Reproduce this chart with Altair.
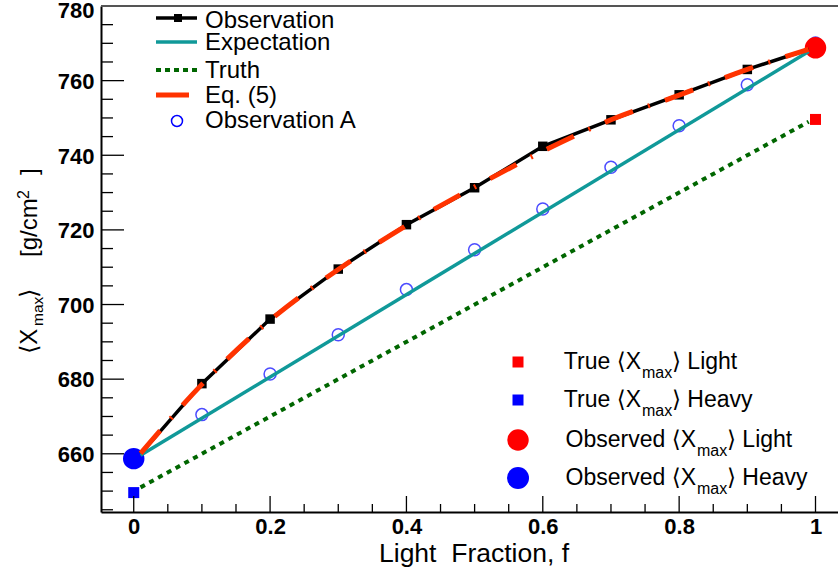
import altair as alt
import pandas as pd

# ---------------- data ----------------
f_line = [0.01, 0.1, 0.2, 0.3, 0.4, 0.5, 0.6, 0.7, 0.8, 0.9, 0.99]
observation = [660.0, 678.8, 696.1, 709.5, 721.4, 731.3, 742.4, 749.5, 756.2, 763.0, 768.4]
eq5 = [660.1, 678.6, 695.8, 709.4, 721.2, 731.5, 741.1, 749.5, 756.1, 763.0, 768.4]
f_marker = [0.1, 0.2, 0.3, 0.4, 0.5, 0.6, 0.7, 0.8, 0.9]
observation_marker = [678.8, 696.1, 709.5, 721.4, 731.3, 742.4, 749.5, 756.2, 763.0]
f_obs_a = [0.0, 0.1, 0.2, 0.3, 0.4, 0.5, 0.6, 0.7, 0.8, 0.9, 1.0]
observation_a = [659.0, 670.5, 681.4, 691.9, 704.0, 714.7, 725.6, 736.8, 747.9, 758.9, 770.1]
f_ends = [0.01, 0.99]
expectation = [659.6, 767.8]
truth = [651.0, 749.0]
comp_names = ["Light", "Heavy"]
comp_f = [1.0, 0.0]
true_xmax = [749.6, 649.6]
observed_xmax = [768.8, 658.7]
comp_colors = ["#ff0000", "#0000ff"]

x_ticks_major = [0, 0.2, 0.4, 0.6, 0.8, 1.0]
x_ticks_minor = [0.05, 0.1, 0.15, 0.25, 0.3, 0.35, 0.45, 0.5, 0.55,
                 0.65, 0.7, 0.75, 0.85, 0.9, 0.95]
y_ticks_major = [660, 680, 700, 720, 740, 760, 780]
y_ticks_minor = [645, 650, 655, 665, 670, 675, 685, 690, 695, 705, 710, 715,
                 725, 730, 735, 745, 750, 755, 765, 770, 775]

FONT = "Liberation Sans, DejaVu Sans, sans-serif"
W, H = 737, 506
TEAL = "#109999"
GREEN = "#006600"
ORANGE = "#ff3300"

xs = alt.Scale(domain=[-0.048, 1.033], nice=False, zero=False)
ys = alt.Scale(domain=[644.4, 780], nice=False, zero=False)

x_axis = alt.Axis(values=x_ticks_major, format="~g", title=None, labelFont=FONT,
                  labelFontSize=22, labelFontWeight="bold", labelColor="black",
                  labelPadding=4, ticks=False, domainColor="black", domainWidth=2,
                  grid=False, labelFlush=False)
y_axis = alt.Axis(values=y_ticks_major, format="d", title=None, labelFont=FONT,
                  labelFontSize=22, labelFontWeight="bold", labelColor="black",
                  labelPadding=7, ticks=False, domainColor="black", domainWidth=2,
                  grid=False, labelBaseline="middle",
                  labelOffset={"condition": {"test": "datum.value >= 780", "value": 4.5},
                               "value": 0.8})


def X(field):
    return alt.X(field, type="quantitative", scale=xs, axis=x_axis)


def Y(field):
    return alt.Y(field, type="quantitative", scale=ys, axis=y_axis)


df_line = pd.DataFrame({"f": f_line, "obs": observation, "eq5": eq5})
df_marker = pd.DataFrame({"f": f_marker, "obs": observation_marker})
df_a = pd.DataFrame({"f": f_obs_a, "xa": observation_a})
df_ends = pd.DataFrame({"f": f_ends, "expct": expectation, "truth": truth})
df_comp = pd.DataFrame({"f": comp_f, "name": comp_names, "true": true_xmax,
                        "observed": observed_xmax, "col": comp_colors})
df_xmaj = pd.DataFrame({"t": x_ticks_major})
df_xmin = pd.DataFrame({"t": x_ticks_minor})
df_ymaj = pd.DataFrame({"t": y_ticks_major})
df_ymin = pd.DataFrame({"t": y_ticks_minor})
one = pd.DataFrame({"a": [0]})

layers = []

# Observation A: open circles
layers.append(alt.Chart(df_a).mark_point(shape="circle", filled=False, size=144,
                                         color="#0000ff", strokeWidth=1.5)
              .encode(x=X("f"), y=Y("xa")))
# observed big circles
layers.append(alt.Chart(df_comp).mark_point(shape="circle", filled=True, size=460, opacity=1)
              .encode(x=X("f"), y=Y("observed"),
                      color=alt.Color("col:N", scale=None)))
# true squares
layers.append(alt.Chart(df_comp).mark_point(shape="square", filled=True, size=121, opacity=1)
              .encode(x=X("f"), y=Y("true"),
                      color=alt.Color("col:N", scale=None)))
# Observation line + markers
layers.append(alt.Chart(df_line).mark_line(color="black", strokeWidth=3.5)
              .encode(x=X("f"), y=Y("obs")))
layers.append(alt.Chart(df_marker).mark_point(shape="square", filled=True, size=90,
                                              color="black", opacity=1)
              .encode(x=X("f"), y=Y("obs")))
# Expectation
layers.append(alt.Chart(df_ends).mark_line(color=TEAL, strokeWidth=3.5)
              .encode(x=X("f"), y=Y("expct")))
# Truth
layers.append(alt.Chart(df_ends).mark_line(color=GREEN, strokeWidth=4, strokeDash=[5, 5])
              .encode(x=X("f"), y=Y("truth")))
# Eq. (5)
layers.append(alt.Chart(df_line).mark_line(color=ORANGE, strokeWidth=5,
                                           strokeDash=[30, 16, 2, 16],
                                           interpolate="monotone", strokeCap="butt")
              .encode(x=X("f"), y=Y("eq5")))

# inward ticks
layers.append(alt.Chart(df_ymaj).mark_rule(color="black", strokeWidth=1.3)
              .encode(y=Y("t"), x=alt.value(0), x2=alt.value(23)))
layers.append(alt.Chart(df_ymin).mark_rule(color="black", strokeWidth=1.3)
              .encode(y=Y("t"), x=alt.value(0), x2=alt.value(12)))
layers.append(alt.Chart(df_xmaj).mark_rule(color="black", strokeWidth=1.3)
              .encode(x=X("t"), y=alt.value(H), y2=alt.value(H - 16)))
layers.append(alt.Chart(df_xmin).mark_rule(color="black", strokeWidth=1.3)
              .encode(x=X("t"), y=alt.value(H), y2=alt.value(H - 8)))
# top frame
layers.append(alt.Chart(one).mark_rule(color="#555555", strokeWidth=2)
              .encode(x=alt.value(0), x2=alt.value(W), y=alt.value(0)))


def txt(s, x, y, size, align="left", angle=0):
    return (alt.Chart(one)
            .mark_text(text=s, align=align, baseline="alphabetic", fontSize=size,
                       font=FONT, angle=angle, color="black")
            .encode(x=alt.value(x), y=alt.value(y)))


def hline(x1, x2, y, color, width, dash=None):
    kw = dict(color=color, strokeWidth=width, strokeCap="butt")
    if dash:
        kw["strokeDash"] = dash
    return alt.Chart(one).mark_rule(**kw).encode(x=alt.value(x1), x2=alt.value(x2), y=alt.value(y))


def sym(x, y, shape, size, color, filled=True, sw=1.5):
    return (alt.Chart(one).mark_point(shape=shape, size=size, color=color, filled=filled,
                                      opacity=1, strokeWidth=sw)
            .encode(x=alt.value(x), y=alt.value(y)))


# top-left legend
LS = 24
layers += [
    hline(55, 96, 12, "black", 3.5), sym(77, 12, "square", 64, "black"),
    txt("Observation", 104, 22, LS),
    hline(55, 96, 36, TEAL, 3.5), txt("Expectation", 104, 44, LS),
    hline(55, 96, 64, GREEN, 4, [5, 4]), txt("Truth", 104, 72, LS),
    hline(55, 88, 89, ORANGE, 5), txt("Eq. (5)", 104, 97, LS),
    sym(76, 115, "circle", 121, "#0000ff", filled=False), txt("Observation A", 104, 122, LS),
]

# bottom-right legend
BS = 23
SS = 16
rows = [
    ("square", 121, "#ff0000", 356, "True \u27e8X", "\u27e9 Light", 540, 571),
    ("square", 121, "#0000ff", 394, "True \u27e8X", "\u27e9 Heavy", 540, 571),
    ("circle", 460, "#ff0000", 434, "Observed \u27e8X", "\u27e9 Light", 595, 626),
    ("circle", 484, "#0000ff", 472, "Observed \u27e8X", "\u27e9 Heavy", 595, 626),
]
for shape, size, col, ysym, pre, post, xend, xpost in rows:
    base = ysym + 7
    layers += [
        sym(417, ysym, shape, size, col),
        txt(pre, xend, base, BS, align="right"),
        txt("max", xend + 1, base + 9, SS),
        txt(post, xpost, base, BS),
    ]

# axis titles
layers += [
    txt("Light\u00a0\u00a0Fraction, f", 373, 556, 26.5, align="center"),
    txt("\u27e8X", -64, 348, 24, angle=270),
    txt("max", -58, 320, 15.5, angle=270),
    txt("\u27e9", -64, 292, 24, angle=270),
    txt("[g/cm", -64, 251, 24, angle=270),
    txt("2", -72, 193, 16, angle=270),
    txt("]", -64, 169, 24, angle=270),
]

chart = (alt.layer(*layers)
         .properties(width=W, height=H, background="white",
                     autosize=alt.AutoSizeParams(type="none"),
                     padding={"left": 101, "top": 6, "right": 0, "bottom": 68})
         .configure(font=FONT)
         .configure_view(stroke=None))

chart.save("out.html", embed_options={"renderer": "svg", "actions": False})
